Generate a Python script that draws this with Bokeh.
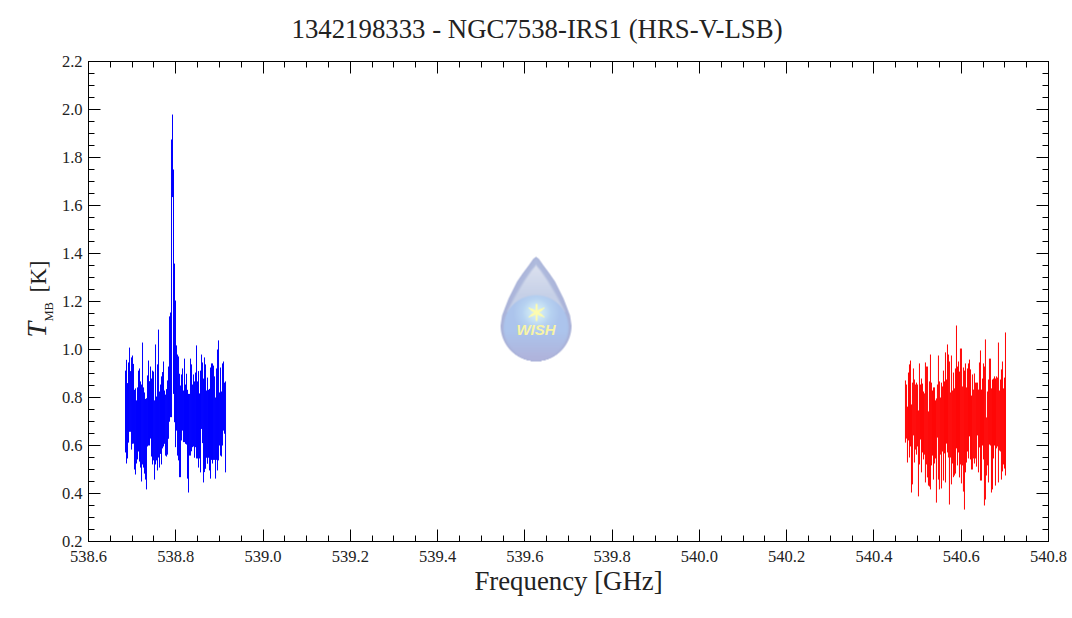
import math
import numpy as np
from bokeh.plotting import figure
from bokeh.embed import file_html
from bokeh.resources import INLINE
from bokeh.models import LinearAxis, FixedTicker, Range1d, Label, CustomJSTickFormatter, PrintfTickFormatter

TITLE = "1342198333 - NGC7538-IRS1 (HRS-V-LSB)"
X_LABEL = "Frequency [GHz]"
X_TICKS = [538.6, 538.8, 539.0, 539.2, 539.4, 539.6, 539.8, 540.0, 540.2, 540.4, 540.6, 540.8]
X_MINOR = [538.65, 538.7, 538.75, 538.85, 538.9, 538.95, 539.05, 539.1, 539.15, 539.25, 539.3, 539.35,
           539.45, 539.5, 539.55, 539.65, 539.7, 539.75, 539.85, 539.9, 539.95, 540.05, 540.1, 540.15,
           540.25, 540.3, 540.35, 540.45, 540.5, 540.55, 540.65, 540.7, 540.75]
Y_TICKS = [0.2, 0.4, 0.6, 0.8, 1.0, 1.2, 1.4, 1.6, 1.8, 2.0, 2.2]
Y_MINOR = [0.25, 0.3, 0.35, 0.45, 0.5, 0.55, 0.65, 0.7, 0.75, 0.85, 0.9, 0.95, 1.05, 1.1, 1.15,
           1.25, 1.3, 1.35, 1.45, 1.5, 1.55, 1.65, 1.7, 1.75, 1.85, 1.9, 1.95, 2.05, 2.1, 2.15]

blue_freq = [538.6848, 538.6871, 538.6894, 538.6917, 538.6940, 538.6963, 538.6986, 538.7008, 538.7031, 538.7054, 538.7077, 538.7100,
             538.7123, 538.7146, 538.7169, 538.7192, 538.7215, 538.7238, 538.7261, 538.7283, 538.7306, 538.7329, 538.7352, 538.7375,
             538.7398, 538.7421, 538.7444, 538.7467, 538.7490, 538.7513, 538.7536, 538.7558, 538.7581, 538.7604, 538.7627, 538.7650,
             538.7673, 538.7696, 538.7719, 538.7742, 538.7765, 538.7788, 538.7811, 538.7833, 538.7856, 538.7879, 538.7902, 538.7925,
             538.7948, 538.7971, 538.7994, 538.8017, 538.8040, 538.8063, 538.8086, 538.8108, 538.8131, 538.8154, 538.8177, 538.8200,
             538.8223, 538.8246, 538.8269, 538.8292, 538.8315, 538.8338, 538.8361, 538.8383, 538.8406, 538.8429, 538.8452, 538.8475,
             538.8498, 538.8521, 538.8544, 538.8567, 538.8590, 538.8613, 538.8636, 538.8658, 538.8681, 538.8704, 538.8727, 538.8750,
             538.8773, 538.8796, 538.8819, 538.8842, 538.8865, 538.8888, 538.8911, 538.8933, 538.8956, 538.8979, 538.9002, 538.9025,
             538.9048, 538.9071, 538.9094, 538.9117, 538.9140]
blue_high = [0.912, 0.957, 0.860, 0.946, 1.008, 0.910, 0.967, 0.975, 0.940, 0.832, 0.838, 0.788, 0.842, 0.912, 0.921, 0.867, 0.854,
             1.029, 0.842, 0.821, 0.794, 0.797, 0.892, 0.954, 0.868, 0.929, 0.879, 0.912, 0.908, 0.788, 1.021, 0.804, 0.938, 1.083,
             0.825, 0.854, 0.888, 0.906, 0.950, 0.829, 0.812, 0.835, 0.871, 0.929, 1.138, 1.154, 1.875, 1.979, 1.750, 1.358, 1.204,
             1.017, 0.979, 0.971, 0.899, 0.850, 0.896, 0.921, 0.829, 0.962, 0.854, 0.899, 0.832, 0.815, 0.815, 0.962, 0.938, 0.854,
             0.896, 0.867, 0.904, 1.017, 0.867, 0.910, 0.817, 0.912, 0.979, 0.946, 0.879, 0.967, 0.938, 0.829, 0.883, 0.832, 0.836,
             0.925, 0.942, 0.942, 0.933, 0.888, 0.800, 0.921, 1.000, 1.038, 0.821, 0.925, 0.825, 0.942, 0.950, 0.862, 0.867]
blue_low = [0.571, 0.525, 0.546, 0.612, 0.657, 0.657, 0.583, 0.607, 0.608, 0.500, 0.479, 0.525, 0.542, 0.575, 0.533, 0.508, 0.450,
            0.521, 0.508, 0.483, 0.458, 0.417, 0.596, 0.600, 0.600, 0.629, 0.554, 0.521, 0.538, 0.458, 0.521, 0.538, 0.496, 0.550,
            0.508, 0.565, 0.521, 0.588, 0.596, 0.607, 0.558, 0.554, 0.562, 0.628, 0.699, 0.718, 0.718, 1.635, 0.815, 0.697, 0.593,
            0.662, 0.558, 0.538, 0.468, 0.468, 0.621, 0.662, 0.614, 0.614, 0.607, 0.604, 0.462, 0.404, 0.558, 0.558, 0.576, 0.593,
            0.596, 0.549, 0.593, 0.546, 0.546, 0.508, 0.546, 0.488, 0.669, 0.610, 0.446, 0.489, 0.503, 0.549, 0.524, 0.549, 0.496,
            0.462, 0.540, 0.525, 0.540, 0.540, 0.462, 0.540, 0.496, 0.538, 0.600, 0.558, 0.554, 0.600, 0.662, 0.649, 0.488]

red_freq = [540.4722, 540.4745, 540.4768, 540.4791, 540.4814, 540.4837, 540.4860, 540.4882, 540.4905, 540.4928, 540.4951, 540.4974,
            540.4997, 540.5020, 540.5043, 540.5066, 540.5089, 540.5112, 540.5135, 540.5157, 540.5180, 540.5203, 540.5226, 540.5249,
            540.5272, 540.5295, 540.5318, 540.5341, 540.5364, 540.5387, 540.5410, 540.5432, 540.5455, 540.5478, 540.5501, 540.5524,
            540.5547, 540.5570, 540.5593, 540.5616, 540.5639, 540.5662, 540.5685, 540.5707, 540.5730, 540.5753, 540.5776, 540.5799,
            540.5822, 540.5845, 540.5868, 540.5891, 540.5914, 540.5937, 540.5960, 540.5982, 540.6005, 540.6028, 540.6051, 540.6074,
            540.6097, 540.6120, 540.6143, 540.6166, 540.6189, 540.6212, 540.6235, 540.6257, 540.6280, 540.6303, 540.6326, 540.6349,
            540.6372, 540.6395, 540.6418, 540.6441, 540.6464, 540.6487, 540.6510, 540.6532, 540.6555, 540.6578, 540.6601, 540.6624,
            540.6647, 540.6670, 540.6693, 540.6716, 540.6739, 540.6762, 540.6785, 540.6807, 540.6830, 540.6853, 540.6876, 540.6899,
            540.6922, 540.6945, 540.6968, 540.6991, 540.7014]
red_high = [0.871, 0.854, 0.762, 0.904, 0.938, 0.954, 0.771, 0.862, 0.921, 0.875, 0.854, 0.862, 0.854, 0.746, 0.942, 0.854, 0.879,
            0.858, 0.825, 0.817, 0.946, 0.929, 0.929, 0.742, 0.867, 0.979, 0.862, 0.829, 0.842, 0.842, 0.788, 0.796, 0.854, 0.975,
            0.867, 0.800, 0.862, 0.846, 0.912, 0.867, 0.988, 0.875, 1.021, 0.979, 0.950, 0.821, 0.975, 0.829, 0.904, 0.838, 0.921,
            1.100, 0.929, 0.950, 0.908, 1.004, 1.004, 0.846, 0.925, 0.912, 0.942, 0.842, 0.921, 0.942, 0.958, 0.917, 0.808, 0.896,
            0.833, 0.900, 0.862, 0.862, 0.862, 0.833, 0.946, 0.996, 0.833, 0.879, 0.942, 0.929, 1.042, 0.717, 0.825, 0.875, 0.962,
            0.962, 0.838, 0.875, 0.879, 0.888, 0.879, 0.888, 0.883, 1.029, 0.829, 0.875, 0.917, 0.950, 0.838, 0.883, 1.071]
red_low = [0.612, 0.629, 0.529, 0.621, 0.550, 0.596, 0.404, 0.438, 0.642, 0.529, 0.583, 0.562, 0.596, 0.388, 0.521, 0.625, 0.488,
           0.571, 0.542, 0.562, 0.446, 0.521, 0.467, 0.433, 0.429, 0.417, 0.517, 0.558, 0.458, 0.525, 0.546, 0.362, 0.633, 0.458,
           0.417, 0.562, 0.421, 0.575, 0.454, 0.567, 0.446, 0.608, 0.571, 0.550, 0.354, 0.550, 0.438, 0.525, 0.468, 0.475, 0.483,
           0.588, 0.517, 0.571, 0.467, 0.521, 0.442, 0.517, 0.408, 0.333, 0.488, 0.529, 0.575, 0.546, 0.638, 0.542, 0.500, 0.500,
           0.546, 0.525, 0.546, 0.512, 0.642, 0.488, 0.592, 0.454, 0.454, 0.600, 0.542, 0.350, 0.375, 0.475, 0.517, 0.446, 0.604,
           0.600, 0.404, 0.417, 0.546, 0.600, 0.433, 0.588, 0.596, 0.446, 0.579, 0.575, 0.458, 0.492, 0.521, 0.504, 0.475]

assert len(blue_freq) == len(blue_high) == len(blue_low)
assert len(red_freq) == len(red_high) == len(red_low)

X0, X1, Y0, Y1 = 538.6, 540.8, 0.2, 2.2
FONT = "Liberation Serif"
INK = "#222222"

p = figure(width=1072, height=618, output_backend="svg", toolbar_location=None,
           x_range=Range1d(X0, X1), y_range=Range1d(Y0, Y1),
           frame_width=960, frame_height=480,
           min_border_left=88, min_border_right=24, min_border_top=61, min_border_bottom=77,
           background_fill_color="white", border_fill_color="white")
p.grid.visible = False
p.outline_line_color = "black"
p.outline_line_width = 1

p.title.text = TITLE
p.title.align = "left"
p.title.offset = 203
p.title.text_font = FONT
p.title.text_font_size = "26.8px"
p.title.text_font_style = "normal"
p.title.text_color = INK
p.title.standoff = -28


def style(ax, ticks, minor):
    ax.ticker = FixedTicker(ticks=ticks, minor_ticks=minor)
    ax.major_tick_in = 12
    ax.major_tick_out = 0
    ax.minor_tick_in = 6
    ax.minor_tick_out = 0
    ax.major_tick_line_color = "black"
    ax.minor_tick_line_color = "black"
    ax.axis_line_color = "black"
    ax.major_label_text_font = FONT
    ax.major_label_text_font_size = "16.5px"
    ax.major_label_text_color = INK


xa = p.xaxis[0]
ya = p.yaxis[0]
style(xa, X_TICKS, X_MINOR)
style(ya, Y_TICKS, Y_MINOR)
xa.formatter = PrintfTickFormatter(format="%.1f")
ya.formatter = PrintfTickFormatter(format="%.1f")
xa.major_label_standoff = 9
ya.major_label_standoff = 6
xa.axis_label = X_LABEL
xa.axis_label_text_font = FONT
xa.axis_label_text_font_size = "26.8px"
xa.axis_label_text_font_style = "normal"
xa.axis_label_text_color = INK
xa.axis_label_standoff = 1

blank = CustomJSTickFormatter(code="return ''")
top = LinearAxis(formatter=blank)
right = LinearAxis(formatter=blank)
style(top, X_TICKS, X_MINOR)
style(right, Y_TICKS, Y_MINOR)
top.major_label_text_font_size = "0px"
right.major_label_text_font_size = "0px"
p.add_layout(top, "above")
p.add_layout(right, "right")

# spectra: min/max envelope per display channel
p.segment(blue_freq, blue_low, blue_freq, blue_high, line_color="#0000ff", line_width=1)
p.segment(red_freq, red_low, red_freq, red_high, line_color="#ff0000", line_width=1)

# logo drawn as an image (page px box converted to data units)
PX, PY = 436.3636, 240.0
dx = lambda px: X0 + (px - 88) / PX
dy = lambda py: Y0 + (541 - py) / PY
lx0, lx1, ly0, ly1 = 495, 576, 250, 365
SS = 3
W, H = (lx1 - lx0) * SS, (ly1 - ly0) * SS
gx, gy = np.meshgrid((np.arange(W) + .5) / SS + lx0, (np.arange(H) + .5) / SS + ly0)
cx, cy, R = 535.5, 325.0, 36.0
hw = np.interp(gy, [256, 258, 260, 265, 273, 281, 290, 298, 307, 315, 325],
               [0, 3, 4.5, 8, 14, 19.5, 24, 28, 31.5, 34.5, 36])
low = gy > cy
hw[low] = np.sqrt(np.clip(R ** 2 - (gy[low] - cy) ** 2, 0, None))
inside = hw - np.abs(gx - cx)
alpha = np.clip(inside, 0, 1) * np.clip(gy - 255.5, 0, 1)


def mix(a, b, t):
    t = np.clip(t, 0, 1)[..., None]
    return np.array(a, float) * (1 - t) + np.array(b, float) * t


col = mix((176, 188, 222), (168, 176, 216), (gy - 260) / 90)
# pale highlight in the upper part
hw2 = np.interp(gy, [263, 270, 280, 295, 310], [0, 6, 13, 22, 30])
h = np.clip((hw2 - np.abs(gx - cx)) / 3, 0, 1) * (gy < 312)
col = col * (1 - h[..., None] * .95) + mix((222, 227, 240), (200, 210, 232), (gy - 265) / 30) * h[..., None] * .95
# lower orb
orb_r = np.hypot(gx - cx, gy - 327.5)
orb = np.clip((33.5 - orb_r) / 1.5, 0, 1)
star_r = np.hypot(gx - 536, gy - 312)
orb_col = mix((200, 232, 250), (172, 196, 236), star_r / 24)
orb_col = mix(orb_col, (176, 180, 220), (gy - 332) / 26)
col = col * (1 - orb[..., None]) + orb_col * orb[..., None]
# rim shade
rim = np.clip(1 - inside / 5, 0, 1)
col = mix(col, (170, 178, 216), rim * .7)
# six-armed star
theta = np.arctan2(gx - 536, 312 - gy)
k = np.abs(((theta + np.pi / 6) % (np.pi / 3)) - np.pi / 6)
star_edge = 3.2 + 7.0 * np.clip(1 - k / (np.pi / 6) * 1.1, 0, 1) ** 1.5
star = np.clip((star_edge - star_r) * 1.2, 0, 1)
glow = np.clip(1 - star_r / 14, 0, 1) * .7
col = mix(col, (226, 244, 240), glow)
col = mix(col, (253, 252, 175), star)
rgba = np.zeros((H, W, 4), dtype=np.uint8)
rgba[..., :3] = np.clip(col, 0, 255).astype(np.uint8)
rgba[..., 3] = (alpha * 255).astype(np.uint8)
rgba = rgba[::-1]
p.image_rgba(image=[rgba.view(np.uint32).reshape(H, W)],
             x=dx(lx0), y=dy(ly1), dw=(lx1 - lx0) / PX, dh=(ly1 - ly0) / PY)

LOGO_TEXT = "WISH"
p.add_layout(Label(x=dx(535.5), y=dy(337), text=LOGO_TEXT, text_align="center",
                   text_font="Liberation Sans", text_font_style="bold italic", text_font_size="15px",
                   text_color="#f8f4a6"))

# y-axis label in three runs (T, subscript MB, [K]); side panels leave them unclipped
ang = math.pi / 2
kw = dict(angle=ang, text_color=INK, text_font=FONT, text_baseline="alphabetic")
p.add_layout(Label(x=dx(36), y=dy(337), text="T", text_font_style="italic", text_font_size="28px", **kw), "left")
p.add_layout(Label(x=dx(49), y=dy(321), text="MB", text_font_size="12.5px", **kw), "left")
p.add_layout(Label(x=dx(38), y=dy(292), text="[K]", text_font_size="23px", **kw), "above")

open("out.html", "w").write(file_html(p, INLINE))
